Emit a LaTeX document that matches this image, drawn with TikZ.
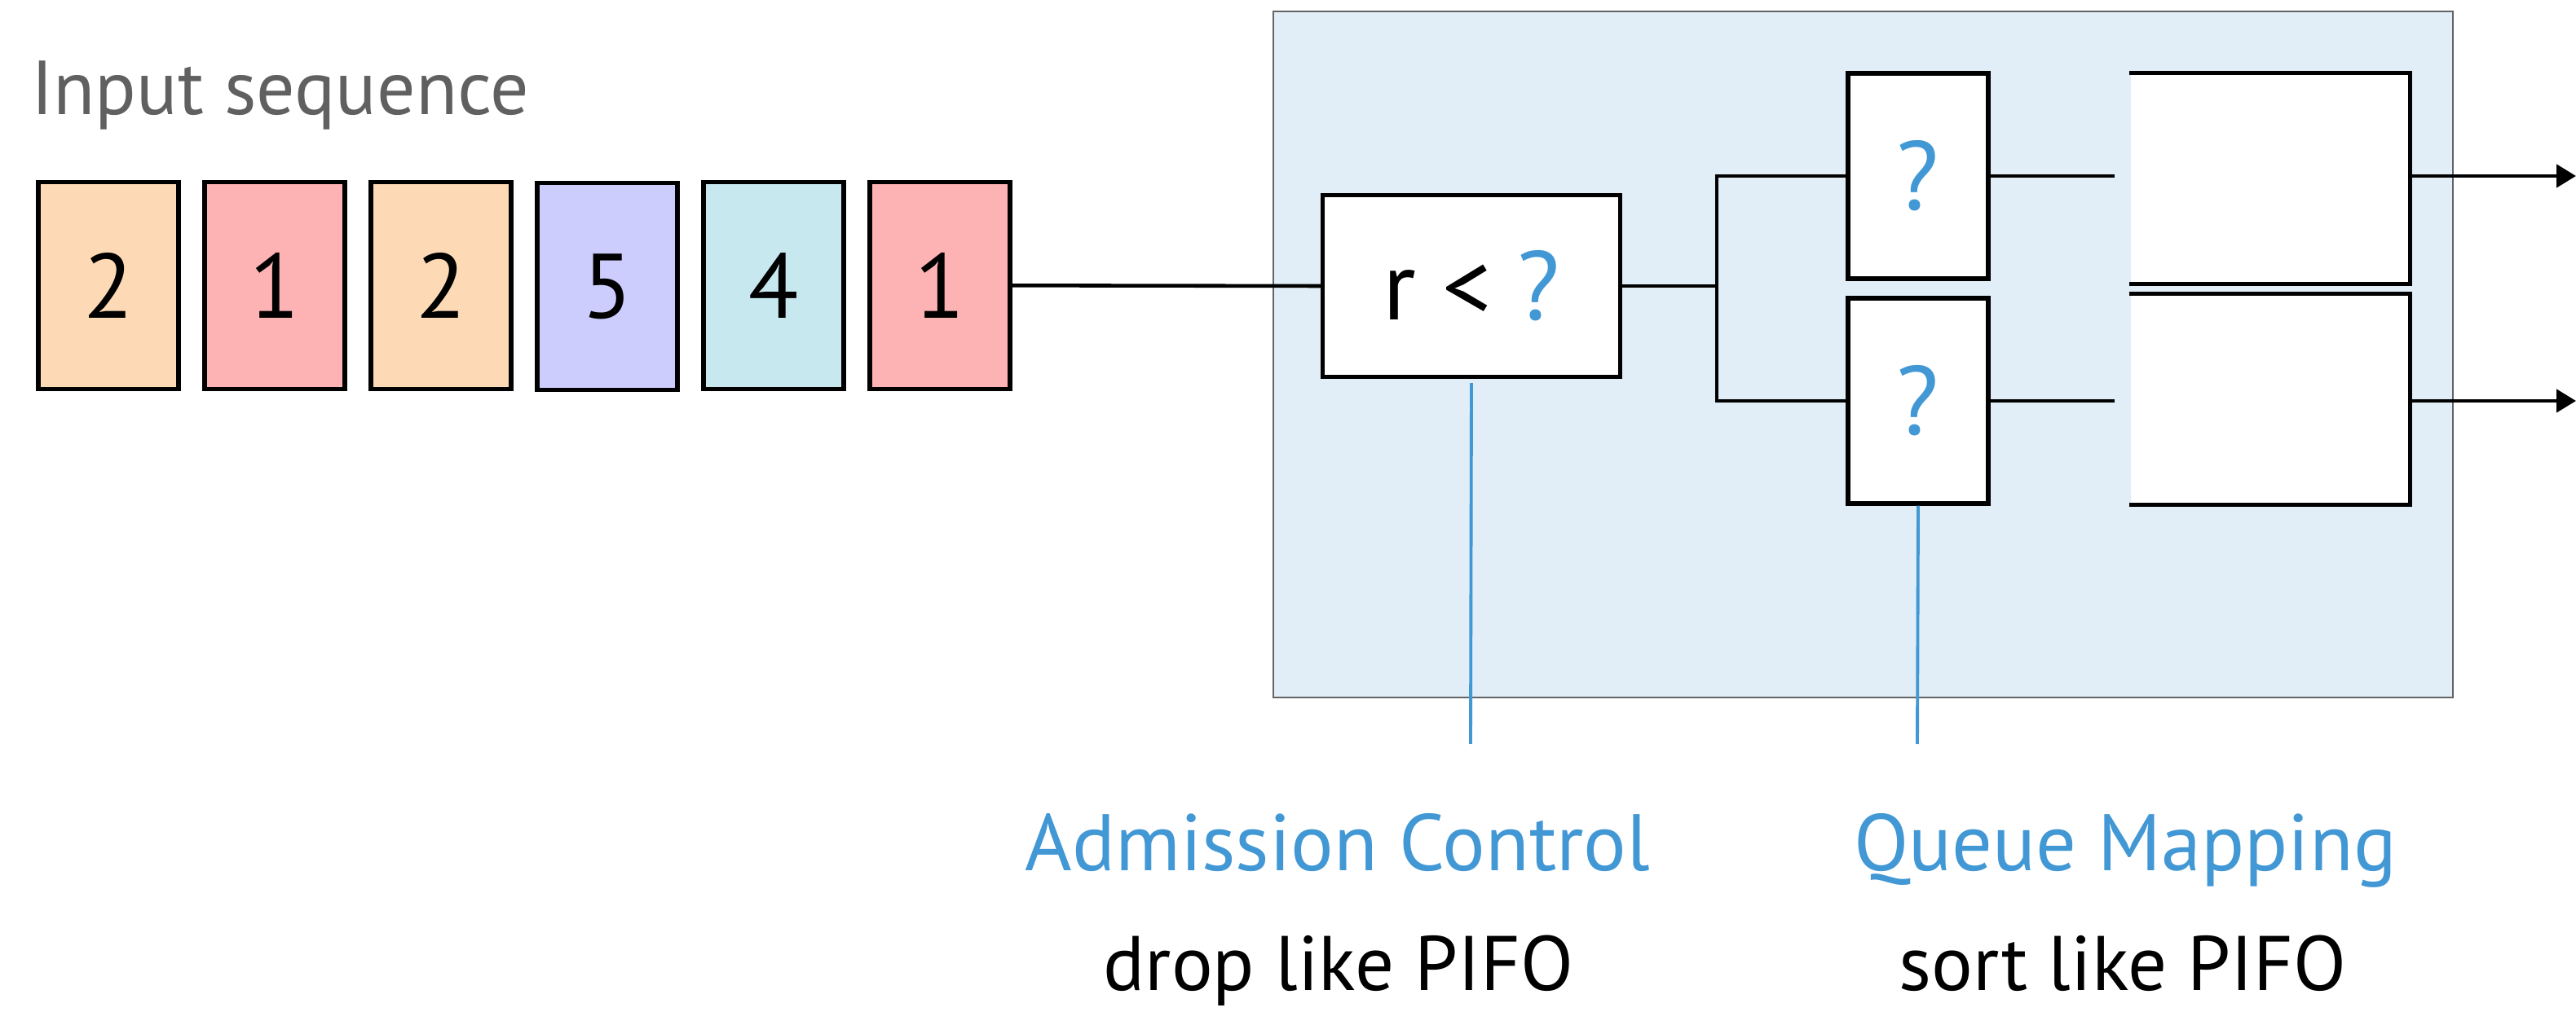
\documentclass[tikz,border=0pt]{standalone}
\usepackage{fontspec}
\setmainfont{PT Sans}
\usepackage{tikz}
\usetikzlibrary{matrix, arrows.meta, positioning, calc}
\definecolor{pktpeach}{RGB}{253,218,181}
\definecolor{pktpink}{RGB}{253,178,180}
\definecolor{pktlilac}{RGB}{204,204,253}
\definecolor{pktcyan}{RGB}{200,232,240}
\definecolor{regionfill}{RGB}{225,238,247}
\definecolor{regionedge}{RGB}{100,100,100}
\definecolor{qblue}{RGB}{66,152,212}
\definecolor{textgray}{RGB}{96,96,96}
\tikzset{
   mypkt/.style={draw, line width=1.5pt, minimum height=2.54cm, minimum width=1.72cm, inner sep=0pt, font=\fontsize{32}{32}\selectfont},
   mygate/.style={draw, fill=white, line width=1.5pt, inner sep=0pt, font=\fontsize{34}{34}\selectfont},
   myqueue/.style={fill=white, minimum width=3.4cm, minimum height=2.54cm, inner sep=0pt},
   myregion/.style={draw=regionedge, fill=regionfill, line width=0.6pt, minimum width=14.47cm, minimum height=8.42cm},
   mylabel/.style={inner sep=0pt, anchor=base, font=\fontsize{28}{28}\selectfont},
   mynote/.style={inner sep=0pt, anchor=base, font=\fontsize{27}{27}\selectfont},
   mytick/.style={draw=qblue, line width=1.1pt}
}

\begin{document}
\begin{tikzpicture}[line width=1.3pt]
   \tikzstyle{line} = [draw, -{Triangle[length=0.24cm, width=0.28cm]}]
   \useasboundingbox (0,0) rectangle (31.6,-12.42);

   \node (sched) [myregion] at (22.855,-4.35) {};

   \node (title) [inner sep=0pt, anchor=base west, text=textgray, font=\fontsize{26.7}{26.7}\selectfont] at (0.36,-1.41) {Input sequence};

   \matrix (seq) at (0.42,-3.51)
   [
      anchor=west,
      inner sep=0pt,
      matrix of nodes,
      column sep={2.04cm,between origins},
      nodes={mypkt},
      ampersand replacement=\&
   ]
   {
      |[fill=pktpeach]| 2 \& |[fill=pktpink]| 1 \& |[fill=pktpeach]| 2 \& |[fill=pktlilac]| 5 \& |[fill=pktcyan]| 4 \& |[fill=pktpink]| 1 \\
   };

   \node (admit) [mygate, minimum width=3.65cm, minimum height=2.23cm] at (18.05,-3.51) {r < \textcolor{qblue}{?}};
   \coordinate (split) at (21.06,-3.51);

   \node (mapA) [mygate, minimum width=1.72cm, minimum height=2.52cm] at (23.53,-2.16) {\textcolor{qblue}{?}};
   \node (mapB) [mygate, minimum width=1.72cm, minimum height=2.52cm] at (23.53,-4.92) {\textcolor{qblue}{?}};

   \node (qA) [myqueue] at (27.84,-2.19) {};
   \node (qB) [myqueue] at (27.84,-4.90) {};
   \foreach \q in {qA,qB}
      \draw [line width=1.5pt] (\q.north west) -| (\q.south east) -- (\q.south west);

   \coordinate (outA) at (31.6,-2.16);
   \coordinate (outB) at (31.6,-4.92);

   \draw (seq-1-6.east) -- (admit.west);
   \draw (admit.east) -- (split);
   \draw (mapA.west) -| (split) |- (mapB.west);
   \draw [shorten >=0.18cm] (mapA.east) -- (mapA.east -| qA.west);
   \draw [shorten >=0.18cm] (mapB.east) -- (mapB.east -| qB.west);
   \path [line] (outA -| qA.east) -- (outA);
   \path [line] (outB -| qB.east) -- (outB);

   \coordinate (acTick) at (18.04,-9.13);
   \coordinate (qmTick) at (23.52,-9.13);
   \path [mytick] ([yshift=-0.05cm]admit.south) -- (acTick);
   \path [mytick] (mapB.south) -- (qmTick);

   \node (acName) [mylabel, text=qblue] at (16.41,-10.68) {Admission Control};
   \node (qmName) [mylabel, text=qblue] at (26.07,-10.68) {Queue Mapping};
   \node (acNote) [mynote] at (16.42,-12.15) {drop like PIFO};
   \node (qmNote) [mynote] at (26.04,-12.15) {sort like PIFO};
\end{tikzpicture}
\end{document}
